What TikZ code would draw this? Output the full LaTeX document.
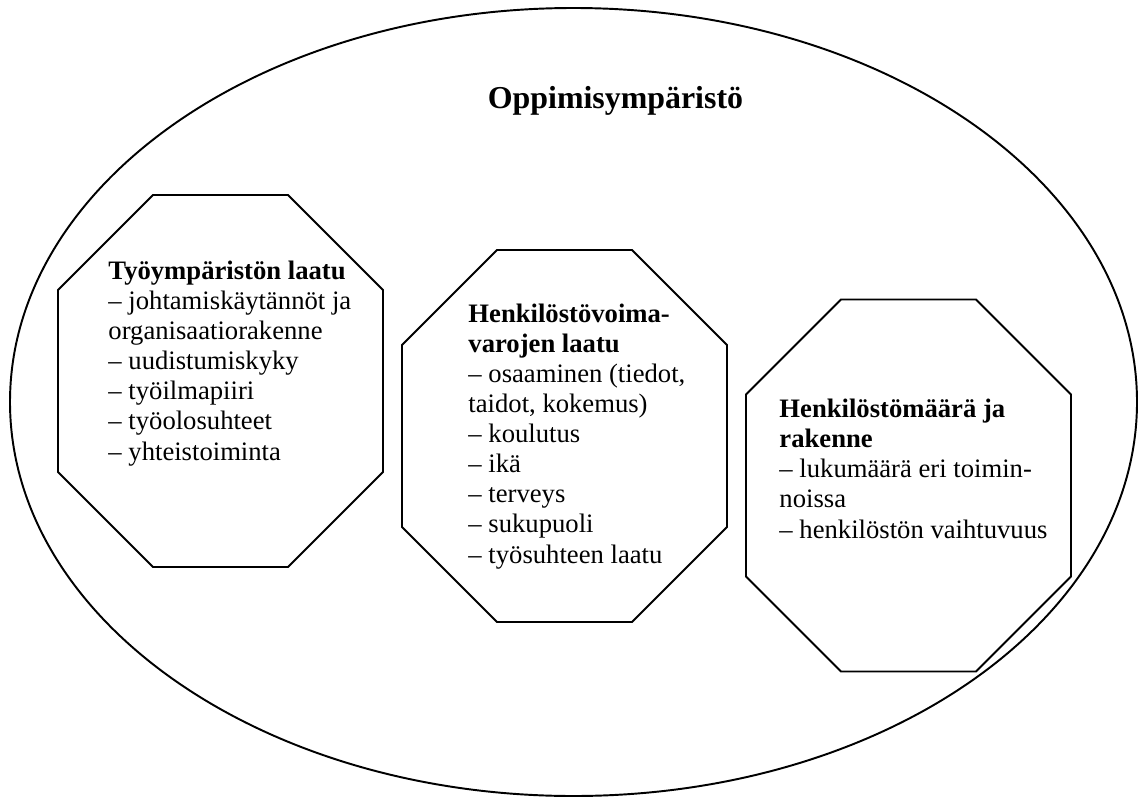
\documentclass[tikz,border=0pt]{standalone}
\usepackage{fontspec}
\setmainfont{Liberation Serif}
\usepackage{tikz}
\usetikzlibrary{positioning}

\begin{document}
\begin{tikzpicture}[
    x=0.439pt, y=-0.439pt,
    frame/.style={draw, line width=0.85pt},
    octa/.pic={\draw[frame] (-67.5,-186) -- (67.5,-186) -- (162.5,-91) -- (162.5,91) -- (67.5,186) -- (-67.5,186) -- (-162.5,91) -- (-162.5,-91) -- cycle;},
    title/.style={font=\fontsize{14}{16}\selectfont\bfseries, inner sep=0pt},
    list/.style={align=left, inner sep=0pt, anchor=base west, font=\fontsize{11.7}{13.2}\selectfont}
]
\useasboundingbox (0,0) rectangle (1138,798);

% outer environment
\draw[frame] (573.5,402) ellipse [x radius=563.5, y radius=394];
\node[title, anchor=base] (env) at (615.5,108) {Oppimisympäristö};

% the three areas
\pic at (220.5,381) {octa};
\pic at (564.5,436) {octa};
\pic at (908.5,485.5) {octa};

% base = last line
\node[list] (work) at (108,460) {\textbf{Työympäristön laatu}\\ – johtamiskäytännöt ja\\ organisaatiorakenne\\ – uudistumiskyky\\ – työilmapiiri\\ – työolosuhteet\\ – yhteistoiminta};
\node[list] (staff) at (468,563) {\textbf{Henkilöstövoima-}\\ \textbf{varojen laatu}\\ – osaaminen (tiedot,\\ taidot, kokemus)\\ – koulutus\\ – ikä\\ – terveys\\ – sukupuoli\\ – työsuhteen laatu};
\node[list] (size) at (779,538) {\textbf{Henkilöstömäärä ja}\\ \textbf{rakenne}\\ – lukumäärä eri toimin-\\ noissa\\ – henkilöstön vaihtuvuus};

\end{tikzpicture}
\end{document}
